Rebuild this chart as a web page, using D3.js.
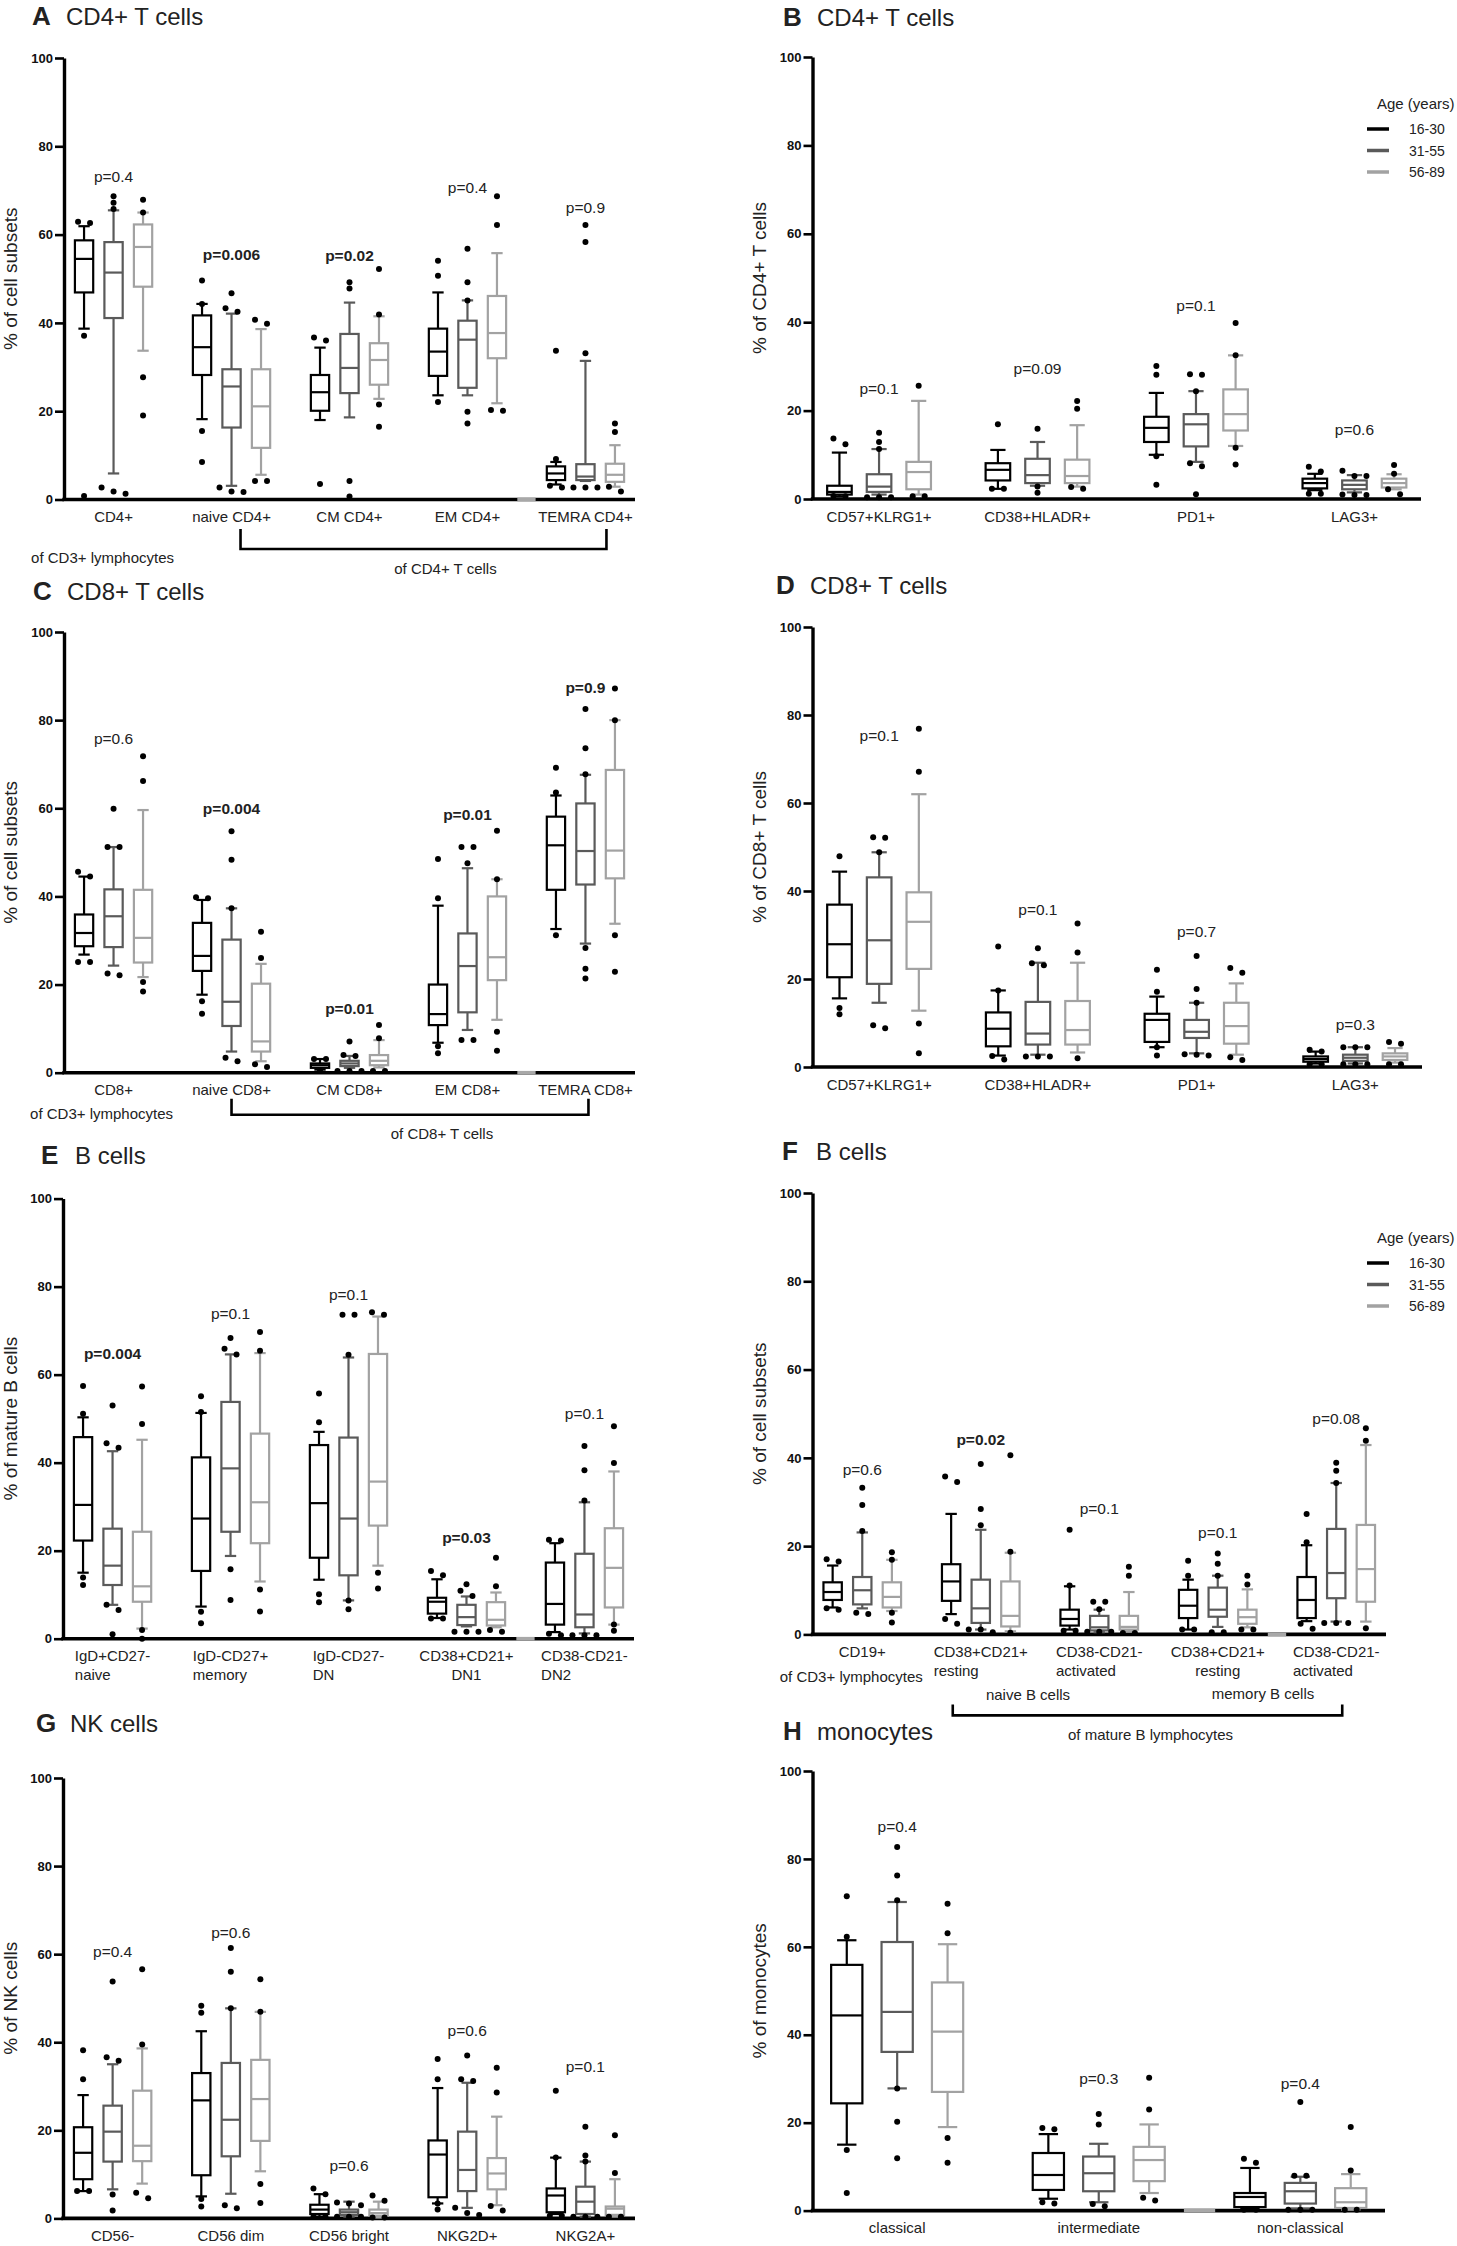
<!DOCTYPE html>
<html lang="en">
<head>
<meta charset="UTF-8">
<title>Immune cell subsets by age group</title>
<script src="https://cdn.jsdelivr.net/npm/d3@7"></script>
<style>
  body { margin: 0; background: #fff; }
  svg { display: block; font-family: "Liberation Sans", Arial, sans-serif; }
</style>
</head>
<body>
<svg id="chart" width="1457" height="2246"></svg>
<script>
// age groups shared by every panel
const ages = ["16-30", "31-55", "56-89"];
const ageColors = ["#000000", "#5a5a5a", "#a2a2a2"];
const yTicks = [0, 20, 40, 60, 80, 100];

// each box: [whisker low, Q1, median, Q3, whisker high], per category then per age group
// A  CD4+ T cells
const catsA = [["CD4+"], ["naive CD4+"], ["CM CD4+"], ["EM CD4+"], ["TEMRA CD4+"]];
const boxesA = [
  [[38.7,46.9,54.5,58.7,61.9],[5.9,41.1,51.4,58.3,65.5],[33.7,48.2,57.2,62.3,65.0]],
  [[18.2,28.2,34.5,41.7,44.3],[3.1,16.3,25.6,29.5,42.1],[5.6,11.7,21.1,29.5,38.6]],
  [[18.0,20.1,24.3,28.2,34.4],[18.6,24.1,29.8,37.5,44.6],[22.8,26.0,31.6,35.4,41.5]],
  [[23.6,28.0,33.5,38.7,46.9],[23.6,25.3,36.2,40.5,45.1],[21.8,32.0,37.7,46.1,55.8]],
  [[3.4,4.4,5.9,7.5,8.5],[4.2,4.4,5.2,8.0,31.4],[2.9,4.0,5.6,8.1,12.3]]
];
const outA = [
  [[62.6,62.9,37.1,0.8],[68.7,67.2,65.8,2.7,1.3,1.8],[67.9,65.0,27.7,19.0]],
  [[49.6,44.3,15.5,8.5],[46.7,43.3,42.5,2.7,1.7,1.8],[40.7,39.8,4.2,4.2]],
  [[36.0,36.7,3.5],[49.2,47.8,4.2,0.7],[52.2,41.9,21.5,16.5]],
  [[54.1,50.7,22.1],[56.8,49.2,45.1,19.9,17.2],[68.7,62.2,20.1,20.3]],
  [[33.7,9.2,2.7,3.1],[62.2,58.3,33.1,2.7,2.7,2.7],[17.2,15.3,1.8,2.9]]
];
const pA = [["p=0.4",73.1,0],["p=0.006",55.5,1],["p=0.02",55.3,1],["p=0.4",70.6,0],["p=0.9",66.2,0]];

// B  CD4+ T cells (markers)
const catsB = [["CD57+KLRG1+"], ["CD38+HLADR+"], ["PD1+"], ["LAG3+"]];
const boxesB = [
  [[0.6,1.0,1.6,3.0,10.5],[1.0,1.6,2.8,5.6,11.3],[1.0,2.2,6.1,8.4,22.2]],
  [[2.3,4.2,6.6,8.1,11.1],[3.0,3.6,5.4,9.1,12.9],[2.8,3.6,5.2,8.9,16.7]],
  [[10.0,12.9,16.1,18.6,24.0],[8.4,11.9,16.9,19.2,24.4],[12.0,15.5,19.2,24.8,32.5]],
  [[2.0,2.4,3.6,4.6,5.7],[1.5,2.2,3.2,4.2,5.4],[2.2,2.6,3.6,4.6,5.6]]
];
const outB = [
  [[12.4,13.7,0.7,0.6],[15.0,12.9,11.3,0.4,0.4,0.4],[25.6,0.6,0.6]],
  [[16.9,2.3,2.3],[15.9,2.8,1.4],[22.2,20.4,2.3,2.7]],
  [[30.1,28.1,9.7,3.2],[28.1,28.2,24.4,8.1,7.4,1.1],[39.8,32.5,11.6,7.8]],
  [[6.2,7.3,1.2,1.2],[6.4,5.2,5.2,1.0,0.9,0.9],[7.7,5.7,1.1,2.2]]
];
const pB = [["p=0.1",25.1,0],["p=0.09",29.5,0],["p=0.1",43.8,0],["p=0.6",15.8,0]];

// C  CD8+ T cells
const catsC = [["CD8+"], ["naive CD8+"], ["CM CD8+"], ["EM CD8+"], ["TEMRA CD8+"]];
const boxesC = [
  [[26.8,28.7,31.7,35.9,44.5],[24.3,28.5,35.5,41.6,51.2],[21.7,25.0,30.6,41.5,59.6]],
  [[17.7,23.1,26.5,34.0,39.2],[4.8,10.6,16.1,30.2,37.3],[2.6,4.8,7.1,20.2,24.7]],
  [[0.7,1.1,1.7,2.1,3.1],[1.1,1.5,2.1,2.7,3.8],[1.2,1.7,2.7,4.0,7.4]],
  [[6.8,10.8,13.3,20.0,37.9],[9.7,13.7,24.2,31.6,46.4],[12.0,21.0,26.2,40.0,43.9]],
  [[32.6,41.5,51.6,58.1,62.9],[29.3,42.7,50.3,61.1,67.6],[33.8,44.1,50.4,68.7,80.0]]
];
const outC = [
  [[44.5,45.6,25.1,25.1],[59.9,51.2,51.2,22.1,22.5],[71.8,66.2,20.6,18.4]],
  [[39.6,39.8,16.2,13.4],[54.8,48.3,37.3,2.6,3.4],[32.0,26.0,1.3,1.9]],
  [[3.1,3.1,0.4],[7.1,4.0,3.8,0.4,0.4,0.4],[10.8,7.8,0.4,0.4]],
  [[48.5,39.6,6.0,4.4],[51.2,51.2,47.5,7.4,7.4],[54.9,43.9,9.3,5.0]],
  [[69.2,63.6,31.2],[82.5,73.6,67.7,28.3,23.6,21.4],[87.2,80.0,31.2,22.9]]
];
const pC = [["p=0.6",75.9,0],["p=0.004",60.0,1],["p=0.01",14.5,1],["p=0.01",58.5,1],["p=0.9",87.5,1]];

// D  CD8+ T cells (markers)
const catsD = [["CD57+KLRG1+"], ["CD38+HLADR+"], ["PD1+"], ["LAG3+"]];
const boxesD = [
  [[15.6,20.4,27.9,36.9,44.4],[14.6,18.9,28.8,43.1,48.8],[12.8,22.3,33.0,39.7,62.0]],
  [[2.6,4.7,8.7,12.4,17.4],[2.8,5.1,7.6,14.8,23.7],[3.3,5.1,8.4,15.0,23.7]],
  [[4.5,5.7,10.7,12.1,16.0],[3.1,6.6,8.0,10.7,14.6],[2.8,5.3,9.3,14.6,19.0]],
  [[0.8,1.2,1.8,2.4,3.5],[0.8,1.4,2.1,2.8,4.5],[1.0,1.6,2.4,3.1,4.3]]
];
const outD = [
  [[47.9,13.4,12.0],[52.1,52.2,48.8,8.8,9.5],[76.9,67.1,9.9,3.1]],
  [[27.4,17.4,2.5,1.7],[27.0,23.6,23.1,2.4,2.4,2.4],[32.6,26.0,2.0]],
  [[22.1,17.1,4.5,2.6],[25.2,17.7,14.6,2.8,2.6,2.9],[21.4,22.5,1.6,2.2]],
  [[3.5,3.9,0.6,0.6],[4.5,4.5,4.5,0.6,0.6,0.6],[5.3,5.7,0.6,0.6]]
];
const pD = [["p=0.1",75.4,0],["p=0.1",35.7,0],["p=0.7",30.9,0],["p=0.3",9.7,0]];

// E  B cells
const catsE = [["IgD+CD27-","naive"], ["IgD-CD27+","memory"], ["IgD-CD27-","DN"], ["CD38+CD21+","DN1"], ["CD38-CD21-","DN2"]];
const boxesE = [
  [[15.0,22.3,30.4,45.8,50.3],[7.7,12.2,16.6,25.0,42.6],[2.3,8.4,11.9,24.3,45.2]],
  [[7.3,15.4,27.3,41.2,51.3],[18.8,24.3,38.7,53.8,64.6],[13.0,21.7,31.0,46.6,64.9]],
  [[13.4,18.4,30.8,44.0,47.0],[8.7,14.4,27.3,45.7,63.9],[16.6,25.7,35.7,64.7,73.2]],
  [[4.7,5.7,8.4,9.3,13.5],[2.8,3.1,4.9,7.7,9.6],[2.6,3.0,4.3,8.3,10.5]],
  [[1.5,3.2,7.9,17.3,21.7],[1.2,2.6,5.5,19.3,31.0],[3.2,7.1,16.1,25.1,38.0]]
];
const outE = [
  [[57.4,51.1,13.9,12.2],[53.0,44.4,43.4,7.7,6.5,1.0],[57.3,48.8,2.0,0]],
  [[55.1,51.5,6.1,3.5],[68.3,65.9,64.6,15.8,8.8],[69.7,65.4,11.2,6.2]],
  [[55.7,49.2,10.1,8.3],[73.6,73.6,64.5,8.7,6.7],[73.6,74.2,15.0,11.4]],
  [[14.4,15.4,4.6,4.6],[12.4,10.9,9.7,1.6,1.6,1.6],[18.4,11.9,1.6,2.0]],
  [[22.3,22.5,1.1,0.8],[43.8,38.3,31.4,0.8,0.8,0.8],[48.3,39.9,3.2,1.8]]
];
const pE = [["p=0.004",64.9,1],["p=0.1",73.8,0],["p=0.1",78.1,0],["p=0.03",23.1,1],["p=0.1",51.1,0]];

// F  B cells (subsets)
const catsF = [["CD19+"], ["CD38+CD21+","resting"], ["CD38-CD21-","activated"], ["CD38+CD21+","resting"], ["CD38-CD21-","activated"]];
const boxesF = [
  [[6.1,7.8,9.6,11.8,15.6],[5.9,6.8,10.0,13.0,23.1],[5.3,6.1,8.5,11.8,16.9]],
  [[4.6,7.6,12.0,15.9,27.3],[1.1,2.6,5.9,12.4,23.7],[0.7,1.8,4.2,12.0,18.5]],
  [[1.1,2.0,3.5,5.6,10.9],[0.5,0.9,1.6,4.2,5.6],[0.7,1.1,1.7,4.2,9.6]],
  [[1.1,3.7,6.5,10.1,12.4],[1.7,4.0,5.6,10.6,13.3],[1.6,2.4,3.9,5.6,10.2]],
  [[3.0,3.7,7.8,13.0,20.2],[2.9,8.2,13.9,23.9,34.3],[2.9,7.4,14.8,24.8,42.9]]
];
const outF = [
  [[16.5,17.0,5.6,5.9],[33.2,29.3,23.4,4.6,4.9],[18.6,16.9,4.9,2.7]],
  [[35.8,34.5,3.5,2.4],[38.6,28.4,24.7,1.1,1.1,0.5],[40.6,18.7,0.4]],
  [[23.7,11.1,0.8,0.8],[7.4,7.4,5.7,0.6,0.6,0.6],[15.3,13.3,0.3,0.3]],
  [[16.7,13.3,1.1,1.1],[18.3,16.0,13.3,0.5,0.5],[13.3,11.3,1.1,1.1]],
  [[27.3,20.9,2.4,1.3],[38.9,37.1,34.3,2.6,2.6,2.6],[46.7,43.9,1.4]]
];
const pF = [["p=0.6",37.4,0],["p=0.02",44.1,1],["p=0.1",28.6,0],["p=0.1",23.0,0],["p=0.08",48.8,0]];

// G  NK cells
const catsG = [["CD56-"], ["CD56 dim"], ["CD56 bright"], ["NKG2D+"], ["NKG2A+"]];
const boxesG = [
  [[6.2,8.9,14.9,20.7,28.0],[6.6,12.9,19.7,25.6,35.0],[7.9,13.0,16.5,29.0,38.6]],
  [[5.0,9.8,26.8,33.0,42.5],[5.6,14.1,22.4,35.3,47.7],[10.7,17.6,27.1,36.0,46.9]],
  [[0.4,1.0,2.0,3.1,5.5],[0.4,0.8,1.4,2.0,3.8],[0.2,0.6,1.2,2.0,3.8]],
  [[3.4,4.8,14.5,17.7,29.6],[2.4,6.2,11.0,19.7,30.8],[3.0,6.6,10.2,13.7,23.1]],
  [[1.0,1.4,5.2,6.8,13.8],[0.4,1.0,3.8,7.2,12.9],[0.4,0.8,2.2,2.7,8.9]]
];
const outG = [
  [[38.2,31.6,6.2,6.2],[53.8,36.6,35.8,5.4,1.8],[56.6,39.5,5.8,4.6]],
  [[48.3,46.7,4.4,2.7],[61.4,56.0,47.7,2.3,3.0],[54.3,46.9,7.8,3.5]],
  [[6.8,5.5,0.4,0.4],[3.6,3.4,3.0,0.4,0.4,0.4],[4.0,5.2,0.2,0.2]],
  [[36.2,31.6,3.4,2.0],[37.0,31.6,31.2,2.4,0.8,1.2],[34.2,28.6,2.8,1.8]],
  [[29.0,13.8,0.6,0.6],[20.8,14.3,12.9,0.4,0.4,0.4],[18.9,10.3,0.4,0.4]]
];
const pG = [["p=0.4",60.5,0],["p=0.6",65.0,0],["p=0.6",12.1,0],["p=0.6",42.7,0],["p=0.1",34.6,0]];

// H  monocytes
const catsH = [["classical"], ["intermediate"], ["non-classical"]];
const boxesH = [
  [[15.0,24.4,44.4,55.9,61.5],[27.8,36.1,45.2,61.1,70.2],[19.0,27.0,40.7,51.9,60.6]],
  [[2.7,4.7,8.1,13.1,17.4],[1.9,4.4,8.5,12.3,15.2],[4.0,6.7,11.5,14.5,19.6]],
  [[0.5,0.8,3.1,4.0,9.7],[0.5,1.6,4.4,6.3,7.7],[0.2,0.6,1.9,5.1,8.3]]
];
const outH = [
  [[71.5,62.3,13.8,4.0],[82.7,76.2,70.6,27.8,20.2,11.9],[69.8,63.1,16.5,10.9]],
  [[18.5,18.8,1.6,1.9],[22.0,19.6,1.0,1.5],[30.2,23.0,2.3,2.9]],
  [[10.9,11.8,0.2,0.2],[24.7,7.9,7.9,0.2,0.2,0.2],[19.0,9.1,0.2,0.2]]
];
const pH = [["p=0.4",87.3,0],["p=0.3",30.1,0],["p=0.4",28.9,0]];

const svg = d3.select("#chart");
svg.append("rect").attr("width", 1457).attr("height", 2246).attr("fill", "#fff");

// spread dots that would overlap side by side
function spreadDots(vals, y) {
  const pts = vals.map(v => y(v)).sort((a, b) => a - b);
  const res = [];
  let cl = [];
  const flush = () => {
    cl.forEach((py, i) => res.push({ py: py, dx: (i - (cl.length - 1) / 2) * 12 }));
    cl = [];
  };
  pts.forEach(py => {
    if (cl.length && py - cl[cl.length - 1] > 6) flush();
    cl.push(py);
  });
  flush();
  return res;
}

function drawPanel(p) {
  const g = svg.append("g");
  const y = d3.scaleLinear().domain([0, 100]).range([p.yBot, p.yTop]);
  const x = d3.scalePoint().domain(d3.range(p.cats.length)).range([p.x0, p.x1]).padding(0.42);
  const step = x.step();
  const off = d3.scalePoint().domain(ages).range([-step * 0.25, step * 0.25]);
  const bw = step * 0.155, cw = bw * 0.62;

  // title
  g.append("text").attr("x", p.tx).attr("y", p.ty)
    .attr("font-size", 26).attr("font-weight", "bold").attr("fill", "#222").text(p.letter);
  g.append("text").attr("x", p.tx + 34).attr("y", p.ty)
    .attr("font-size", 24).attr("fill", "#222").text(p.title);

  // y axis
  const ax = g.append("g").attr("transform", `translate(${p.x0},0)`)
    .call(d3.axisLeft(y).tickValues(yTicks).tickSize(9).tickSizeOuter(0).tickPadding(2));
  ax.select(".domain").attr("stroke", "#000").attr("stroke-width", 3.4);
  ax.selectAll(".tick line").attr("stroke", "#000").attr("stroke-width", 2.6);
  ax.selectAll(".tick text").attr("font-size", 13).attr("font-weight", "bold")
    .attr("font-family", "'Liberation Sans', Arial, sans-serif").attr("fill", "#111");

  g.append("text")
    .attr("transform", `translate(${p.ylx},${(p.yTop + p.yBot) / 2}) rotate(-90)`)
    .attr("text-anchor", "middle").attr("dominant-baseline", "middle")
    .attr("font-size", 19).attr("fill", "#222").text(p.ylabel);

  // x axis line
  g.append("line").attr("x1", p.x0 - 1.7).attr("x2", p.x1)
    .attr("y1", p.yBot).attr("y2", p.yBot).attr("stroke", "#000").attr("stroke-width", 3.6);
  if (p.gapAfter != null) {
    const gx = (x(p.gapAfter) + x(p.gapAfter + 1)) / 2;
    g.append("rect").attr("x", gx - bw / 2).attr("y", p.yBot - 1.8)
      .attr("width", bw).attr("height", 3.6).attr("fill", "#a8a8a8");
  }

  // boxes
  p.boxes.forEach((grp, ci) => {
    grp.forEach((b, ai) => {
      const cx = x(ci) + off(ages[ai]);
      const col = ageColors[ai];
      const bg = g.append("g").attr("stroke", col).attr("stroke-width", 2.2).attr("fill", "none");
      bg.append("line").attr("x1", cx).attr("x2", cx).attr("y1", y(b[4])).attr("y2", y(b[3]));
      bg.append("line").attr("x1", cx).attr("x2", cx).attr("y1", y(b[1])).attr("y2", y(b[0]));
      [b[0], b[4]].forEach(v => bg.append("line")
        .attr("x1", cx - cw / 2).attr("x2", cx + cw / 2).attr("y1", y(v)).attr("y2", y(v)));
      bg.append("rect").attr("x", cx - bw / 2).attr("y", y(b[3]))
        .attr("width", bw).attr("height", Math.max(0.5, y(b[1]) - y(b[3])));
      bg.append("line").attr("x1", cx - bw / 2).attr("x2", cx + bw / 2)
        .attr("y1", y(b[2])).attr("y2", y(b[2]));
      spreadDots(p.outs[ci][ai], y).forEach(d => {
        g.append("circle").attr("cx", cx + d.dx).attr("cy", d.py).attr("r", 3).attr("fill", "#000");
      });
    });
  });

  // p values
  p.pvals.forEach((pv, ci) => {
    g.append("text").attr("x", x(ci)).attr("y", y(pv[1]) + 5.5)
      .attr("text-anchor", "middle").attr("font-size", 15.5)
      .attr("font-weight", pv[2] ? "bold" : "normal").attr("fill", "#222").text(pv[0]);
  });

  // category labels
  p.cats.forEach((lines, ci) => {
    const t = g.append("text").attr("x", x(ci)).attr("y", p.yBot + 22.5)
      .attr("text-anchor", "middle").attr("font-size", 15).attr("fill", "#222").text(lines[0]);
    if (lines[1]) {
      const w = t.node().getComputedTextLength();
      const mid = p.align2 && p.align2[ci] === "middle";
      g.append("text").attr("x", mid ? x(ci) : x(ci) - w / 2).attr("y", p.yBot + 41.5)
        .attr("text-anchor", mid ? "middle" : "start").attr("font-size", 15)
        .attr("fill", "#222").text(lines[1]);
    }
  });

  // legend
  if (p.legendY != null) {
    const ly = p.yTop + p.legendY;
    g.append("text").attr("x", 1377).attr("y", ly).attr("font-size", 15)
      .attr("fill", "#222").text("Age (years)");
    ages.forEach((a, i) => {
      const ey = ly + 20 + i * 21.5;
      g.append("line").attr("x1", 1367).attr("x2", 1389).attr("y1", ey).attr("y2", ey)
        .attr("stroke", ageColors[i]).attr("stroke-width", 3.5);
      g.append("text").attr("x", 1409).attr("y", ey + 5).attr("font-size", 14)
        .attr("fill", "#222").text(a);
    });
  }
  return { g, x, y };
}

function note(g, txt, xx, yy) {
  g.append("text").attr("x", xx).attr("y", yy).attr("text-anchor", "middle")
    .attr("font-size", 15).attr("fill", "#222").text(txt);
}
function bracket(g, xa, xb, ya, yb) {
  g.append("path").attr("d", `M${xa},${ya}V${yb}H${xb}V${ya}`)
    .attr("fill", "none").attr("stroke", "#000").attr("stroke-width", 2.6);
}

const L = 64, R = 812.5;

const A = drawPanel({ letter: "A", title: "CD4+ T cells", tx: 32, ty: 25, x0: L, x1: 635, yTop: 58, yBot: 499.5,
  ylabel: "% of cell subsets", ylx: 12, cats: catsA, boxes: boxesA, outs: outA, pvals: pA, gapAfter: 3 });
note(A.g, "of CD3+ lymphocytes", A.x(0) - 11, 499.5 + 63);
bracket(A.g, A.x(1) + 9, A.x(4) + 21, 499.5 + 29.5, 499.5 + 49.5);
note(A.g, "of CD4+ T cells", (A.x(1) + A.x(4) + 30) / 2 + 22, 499.5 + 74);

drawPanel({ letter: "B", title: "CD4+ T cells", tx: 783, ty: 26, x0: R, x1: 1421, yTop: 57, yBot: 499,
  ylabel: "% of CD4+ T cells", ylx: 761, cats: catsB, boxes: boxesB, outs: outB, pvals: pB, legendY: 52 });

const C = drawPanel({ letter: "C", title: "CD8+ T cells", tx: 33, ty: 600, x0: L, x1: 635, yTop: 632, yBot: 1072.7,
  ylabel: "% of cell subsets", ylx: 12, cats: catsC, boxes: boxesC, outs: outC, pvals: pC, gapAfter: 3 });
note(C.g, "of CD3+ lymphocytes", C.x(0) - 12, 1072.7 + 46);
bracket(C.g, C.x(1), C.x(4) + 3, 1072.7 + 26, 1072.7 + 42);
note(C.g, "of CD8+ T cells", (C.x(1) + C.x(4) + 3) / 2 + 32, 1072.7 + 66);

drawPanel({ letter: "D", title: "CD8+ T cells", tx: 776, ty: 594, x0: R, x1: 1422, yTop: 627, yBot: 1067,
  ylabel: "% of CD8+ T cells", ylx: 761, cats: catsD, boxes: boxesD, outs: outD, pvals: pD });

drawPanel({ letter: "E", title: "B cells", tx: 41, ty: 1164, x0: 63, x1: 634, yTop: 1198.6, yBot: 1638.7,
  ylabel: "% of mature B cells", ylx: 12, cats: catsE, boxes: boxesE, outs: outE, pvals: pE, gapAfter: 3,
  align2: ["start", "start", "start", "middle", "start"] });

const F = drawPanel({ letter: "F", title: "B cells", tx: 782, ty: 1160, x0: R, x1: 1386, yTop: 1193, yBot: 1634.4,
  ylabel: "% of cell subsets", ylx: 761, cats: catsF, boxes: boxesF, outs: outF, pvals: pF, gapAfter: 3,
  align2: ["start", "start", "start", "middle", "start"], legendY: 50 });
note(F.g, "of CD3+ lymphocytes", F.x(0) - 11, 1634.4 + 48);
note(F.g, "naive B cells", (F.x(1) + F.x(2)) / 2 - 12, 1634.4 + 66);
note(F.g, "memory B cells", (F.x(3) + F.x(4)) / 2 - 14, 1634.4 + 65);
bracket(F.g, F.x(1) - 28, F.x(4) + 6, 1634.4 + 70, 1634.4 + 81);
note(F.g, "of mature B lymphocytes", (F.x(1) - 28 + F.x(4) + 6) / 2 + 3, 1634.4 + 106);

drawPanel({ letter: "G", title: "NK cells", tx: 36, ty: 1732, x0: 63, x1: 635, yTop: 1778, yBot: 2218.4,
  ylabel: "% of NK cells", ylx: 12, cats: catsG, boxes: boxesG, outs: outG, pvals: pG });

drawPanel({ letter: "H", title: "monocytes", tx: 783, ty: 1740, x0: R, x1: 1385, yTop: 1771, yBot: 2210.6,
  ylabel: "% of monocytes", ylx: 761, cats: catsH, boxes: boxesH, outs: outH, pvals: pH, gapAfter: 1 });
</script>
</body>
</html>
